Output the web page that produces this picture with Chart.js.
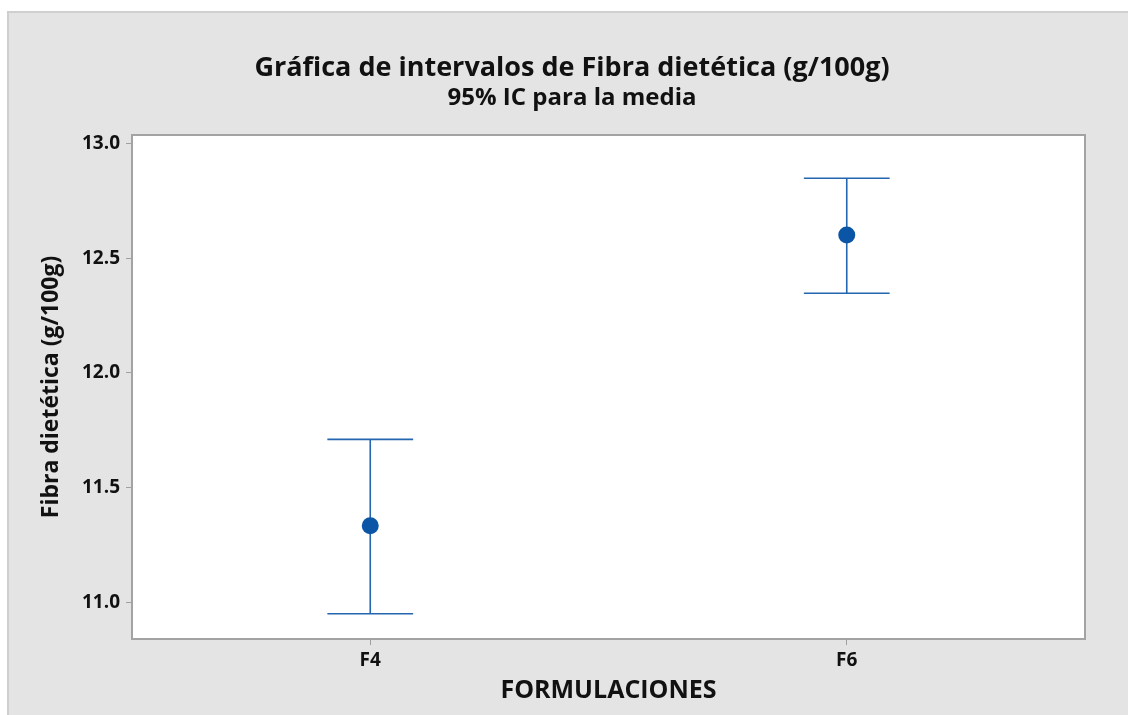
<!DOCTYPE html>
<html>
<head>
<meta charset="utf-8">
<script src="https://cdn.jsdelivr.net/npm/chart.js@4/dist/chart.umd.min.js"></script>
<style>
  html, body { margin: 0; padding: 0; background: #ffffff; width: 1128px; height: 715px; overflow: hidden; }
  #panel { position: absolute; left: 7px; top: 11px; width: 1121px; height: 704px; background: #e4e4e4;
           border-top: 2px solid #cfcfcf; border-left: 2px solid #cfcfcf; box-sizing: border-box; }
  #wrap { position: absolute; left: 0; top: 0; width: 1128px; height: 715px; }
</style>
</head>
<body>
<div id="panel"></div>
<div id="wrap"><canvas id="c" width="1128" height="715"></canvas></div>
<script>
// ---- data ----
const categories = ['F4', 'F6'];
const means = [11.335, 12.601];
const lowerCI = [10.952, 12.347];
const upperCI = [11.711, 12.848];
const yTickValues = [11.0, 11.5, 12.0, 12.5, 13.0];
const titleText = 'Gráfica de intervalos de Fibra dietética (g/100g)';
const subtitleText = '95% IC para la media';
const yAxisTitle = 'Fibra dietética (g/100g)';
const xAxisTitle = 'FORMULACIONES';

// ---- style constants ----
const CAP = 0.09;            // half width of the caps, x data units
const FONT = "'Open Sans', 'Noto Sans', sans-serif";
const TEXT = '#111111';
const LINE_COLOR = '#2466b0';
const POINT_COLOR = '#0b55a6';

const whisker = [];
const caps = [];
categories.forEach((c, i) => {
  whisker.push({x: i, y: lowerCI[i]}, {x: i, y: upperCI[i]}, {x: i, y: null});
  caps.push({x: i - CAP, y: lowerCI[i]}, {x: i + CAP, y: lowerCI[i]}, {x: i, y: null});
  caps.push({x: i - CAP, y: upperCI[i]}, {x: i + CAP, y: upperCI[i]}, {x: i, y: null});
});

const framePlugin = {
  id: 'frame',
  beforeDatasetsDraw(chart) {
    const {ctx, chartArea: a} = chart;
    ctx.save();
    ctx.fillStyle = '#ffffff';
    ctx.fillRect(a.left, a.top, a.right - a.left, a.bottom - a.top);
    ctx.restore();
  },
  afterDatasetsDraw(chart) {
    const {ctx, chartArea: a} = chart;
    ctx.save();
    ctx.strokeStyle = '#a3a3a3';
    ctx.lineWidth = 2;
    ctx.strokeRect(a.left, a.top, a.right - a.left, a.bottom - a.top);
    ctx.restore();
  }
};

new Chart(document.getElementById('c'), {
  type: 'scatter',
  data: {
    datasets: [
      { label: 'Media', data: means.map((m, i) => ({x: i, y: m})),
        pointRadius: 8.5, pointHoverRadius: 8.5, backgroundColor: POINT_COLOR, borderWidth: 0, showLine: false },
      { label: 'IC', data: whisker, showLine: true, spanGaps: false, pointRadius: 0,
        borderColor: LINE_COLOR, borderWidth: 1.6 },
      { label: 'Caps', data: caps, showLine: true, spanGaps: false, pointRadius: 0,
        borderColor: LINE_COLOR, borderWidth: 1.6 }
    ]
  },
  options: {
    responsive: false,
    animation: false,
    layout: { padding: { left: 16, right: 0, top: 0, bottom: 0 } },
    plugins: {
      legend: { display: false },
      tooltip: { enabled: false },
      title: { display: true, text: titleText, color: TEXT,
               font: { family: FONT, size: 27, weight: '700', lineHeight: 1.2 },
               padding: { top: 51.8, bottom: 0 } },
      subtitle: { display: true, text: subtitleText, color: TEXT,
                  font: { family: FONT, size: 24, weight: '700', lineHeight: 1.2 },
                  padding: { top: 0, bottom: 22 } }
    },
    scales: {
      x: {
        type: 'linear', min: -0.5, max: 1.5,
        afterBuildTicks: s => { s.ticks = categories.map((c, i) => ({value: i})); },
        afterFit: s => { s.height = 76; },
        grid: { display: true, drawOnChartArea: false, drawTicks: true, tickLength: 6, color: '#a0a0a0' },
        border: { display: false },
        ticks: { autoSkip: false, maxRotation: 0, padding: 4, color: TEXT,
                 font: { family: FONT, size: 19, weight: '700' },
                 callback: v => categories[v] },
        title: { display: true, text: xAxisTitle, color: TEXT,
                 font: { family: FONT, size: 25, weight: '700', lineHeight: 1.2 },
                 padding: { top: 0, bottom: 9 } }
      },
      y: {
        type: 'linear', min: 10.842, max: 13.036,
        afterBuildTicks: s => { s.ticks = yTickValues.map(v => ({value: v})); },
        afterFit: s => { s.width = 116; },
        grid: { display: true, drawOnChartArea: false, drawTicks: true, tickLength: 6, color: '#a0a0a0' },
        border: { display: false },
        ticks: { padding: 6, color: TEXT, font: { family: FONT, size: 19, weight: '700' },
                 callback: v => Number(v).toFixed(1) },
        title: { display: true, text: yAxisTitle, color: TEXT,
                 font: { family: FONT, size: 23, weight: '700', lineHeight: 1.2 },
                 padding: { top: 21.2, bottom: 0 } }
      },
      yRight: {
        type: 'linear', position: 'right', display: true,
        afterFit: s => { s.width = 43; },
        grid: { display: false }, border: { display: false }, ticks: { display: false }
      }
    }
  },
  plugins: [framePlugin]
});
</script>
</body>
</html>
